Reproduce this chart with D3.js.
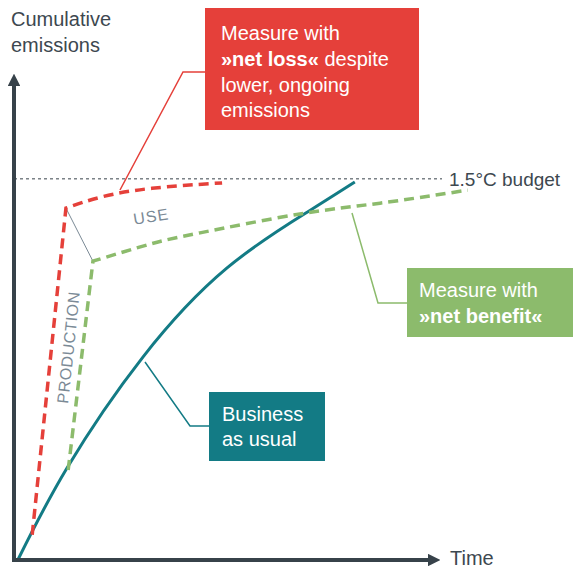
<!DOCTYPE html>
<html><head><meta charset="utf-8">
<script src="https://cdn.jsdelivr.net/npm/d3@7"></script>
<style>body{margin:0;background:#fff}svg{display:block;font-family:"Liberation Sans",Arial,sans-serif}</style>
</head><body><svg id="c" width="573" height="570"></svg>
<script>
// Conceptual data: [time, cumulative emissions] (0-100 units)
const redSeries = [[3.6,5.6],[11.1,78.2],[19.1,80.7],[30.2,82.6],[45.8,83.8]];
const greenSeries = [[11.6,20],[17.1,66.4],[29.8,70.2],[40.9,72.7],[63.1,76.9],[80.9,79.3],[100.4,82.2]];
const tealSeries = [[0.4,0],[11.3,20.4],[28.2,45.1],[46.9,64.9],[64.7,77.3],[75.3,84.0]];
const budget = 84.7;
const budgetLabel = "1.5°C budget";
const yLabel = ["Cumulative","emissions"];
const xLabel = "Time";

const svg = d3.select("#c");
const x = d3.scaleLinear().domain([0,100]).range([16,466]);
const y = d3.scaleLinear().domain([0,100]).range([560,110]);
const axisCol = "#37424a", red="#e5403a", green="#8cbb6c", teal="#137b85", gray="#7b8a96";

// budget line
svg.append("line").attr("x1",14).attr("x2",442).attr("y1",y(budget)).attr("y2",y(budget))
  .attr("stroke",axisCol).attr("stroke-width",1).attr("stroke-dasharray","3,3");
svg.append("text").attr("x",449).attr("y",y(budget)+7).attr("font-size",19).attr("fill","#3d4850").text(budgetLabel);

const line = d3.line().x(d=>x(d[0])).y(d=>y(d[1]));
const curved = d3.line().x(d=>x(d[0])).y(d=>y(d[1])).curve(d3.curveNatural);

// connector red corner -> green corner
svg.append("line").attr("x1",x(redSeries[1][0])).attr("y1",y(redSeries[1][1]))
  .attr("x2",x(greenSeries[1][0])).attr("y2",y(greenSeries[1][1])).attr("stroke",gray).attr("stroke-width",1);

// teal
svg.append("path").attr("d",curved(tealSeries)).attr("fill","none").attr("stroke",teal).attr("stroke-width",3);
// red/green: straight segment then curve
function seg(data){ return line(data.slice(0,2)) + curved(data.slice(1)).replace(/^M[^A-Za-z]*/, "L"+x(data[1][0])+","+y(data[1][1])); }
svg.append("path").attr("d",seg(redSeries)).attr("fill","none").attr("stroke",red).attr("stroke-width",3.5).attr("stroke-dasharray","10,6");
svg.append("path").attr("d",seg(greenSeries)).attr("fill","none").attr("stroke",green).attr("stroke-width",3.5).attr("stroke-dasharray","10,6");

// labels USE / PRODUCTION
svg.append("text").attr("transform","translate(152,222) rotate(-9)").attr("text-anchor","middle")
  .attr("font-size",16).attr("fill",gray).attr("letter-spacing",1).text("USE");
svg.append("text").attr("transform","translate(74,348) rotate(-84)").attr("text-anchor","middle")
  .attr("font-size",16).attr("fill",gray).attr("letter-spacing",0.5).text("PRODUCTION");

// axes
svg.append("defs").append("marker").attr("id","ah").attr("viewBox","0 0 10 10").attr("refX",5).attr("refY",5)
  .attr("markerWidth",3.2).attr("markerHeight",3.2).attr("orient","auto")
  .append("path").attr("d","M0,0L10,5L0,10z").attr("fill",axisCol);
svg.append("line").attr("x1",14).attr("y1",560).attr("x2",14).attr("y2",80).attr("stroke",axisCol).attr("stroke-width",4).attr("marker-end","url(#ah)");
svg.append("line").attr("x1",12).attr("y1",560).attr("x2",434).attr("y2",560).attr("stroke",axisCol).attr("stroke-width",4).attr("marker-end","url(#ah)");
svg.append("text").attr("x",11).attr("y",26).attr("font-size",20).attr("fill","#3d4850").text(yLabel[0]);
svg.append("text").attr("x",11).attr("y",52).attr("font-size",20).attr("fill","#3d4850").text(yLabel[1]);
svg.append("text").attr("x",450).attr("y",565).attr("font-size",20).attr("fill","#3d4850").text(xLabel);

// callouts
function callout(col, pts, box, lines){
  svg.append("polyline").attr("points",pts.map(p=>p.join(",")).join(" ")).attr("fill","none").attr("stroke",col).attr("stroke-width",1.5);
  svg.append("rect").attr("x",box[0]).attr("y",box[1]).attr("width",box[2]).attr("height",box[3]).attr("fill",col);
  lines.forEach(l=>{
    const t = svg.append("text").attr("x",l.x).attr("y",l.y).attr("font-size",20).attr("fill","#fff");
    l.parts.forEach(p=>t.append("tspan").attr("font-weight",p[1]?"bold":"normal").text(p[0]));
  });
}
callout(red, [[120,190],[183,72],[206,72]], [205,8,214,122], [
  {x:221,y:40,parts:[["Measure with",0]]},
  {x:221,y:66,parts:[["»net loss«",1],[" despite",0]]},
  {x:221,y:92,parts:[["lower, ongoing",0]]},
  {x:221,y:117,parts:[["emissions",0]]}]);
callout(green, [[352,213],[378,303],[408,303]], [407,268,166,69], [
  {x:419,y:297,parts:[["Measure with",0]]},
  {x:419,y:323,parts:[["»net benefit«",1]]}]);
callout(teal, [[145,362],[190,426],[210,426]], [209,392,116,69], [
  {x:222,y:421,parts:[["Business",0]]},
  {x:222,y:446,parts:[["as usual",0]]}]);
</script></body></html>
